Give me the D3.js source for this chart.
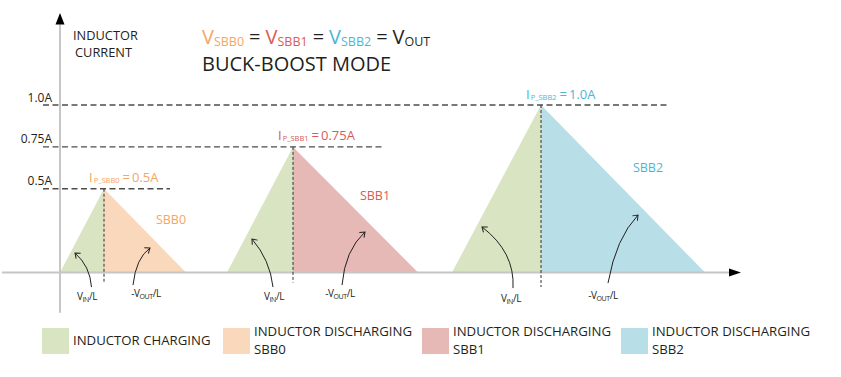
<!DOCTYPE html>
<html>
<head>
<meta charset="utf-8">
<script src="https://cdn.jsdelivr.net/npm/d3@7"></script>
<style>
body { margin: 0; background: #fff; }
svg { display: block; font-family: "Open Sans", sans-serif; }
</style>
</head>
<body>
<svg width="841" height="377"></svg>
<script>
// switching pulses, time in arbitrary units, current in amps
var series = ["SBB0", "SBB1", "SBB2"];
var startT = [0, 16.7, 39.2];
var peakT = [4.4, 23.3, 48.1];
var endT = [12.6, 35.8, 64.5];
var peakI = [0.5, 0.75, 1.0];
var peakText = ["0.5A", "0.75A", "1.0A"];
var tickValues = [0.5, 0.75, 1.0];
var tickLabels = ["0.5A", "0.75A", "1.0A"];
var levelEndT = [11, 32.5, 60.8];
var dropEndI = [-0.065, -0.06, -0.087];

// series name labels [t, I]
var nameAt = [[11.1, 0.29], [31.5, 0.433], [58.8, 0.6]];

// slope annotations: curved arrows [tail, ctrl, head] and their text
var chargeArrows = [
    [[3.15, -0.087], [3.0, 0.039], [1.5, 0.116]],
    [[21.3, -0.087], [21.0, 0.075], [19.2, 0.2]],
    [[45.3, -0.093], [45.5, 0.122], [42.2, 0.272]]
];
var dischargeArrows = [
    [[7.3, -0.075], [7.6, 0.087], [9.0, 0.146]],
    [[28.2, -0.075], [28.5, 0.134], [30.5, 0.242]],
    [[54.8, -0.063], [55.6, 0.206], [57.8, 0.343]]
];
var chargeTextAt = [[2.7, -0.164], [21.4, -0.164], [45.1, -0.176]];
var dischargeTextAt = [[8.6, -0.146], [28.0, -0.146], [54.3, -0.158]];

var legendLabels = [["INDUCTOR CHARGING"], ["INDUCTOR DISCHARGING", "SBB0"],
    ["INDUCTOR DISCHARGING", "SBB1"], ["INDUCTOR DISCHARGING", "SBB2"]];

var loadVis = function() {

    var svg = d3.select("svg");

    var x = d3.scaleLinear().domain([0, 68]).range([60, 740]);
    var y = d3.scaleLinear().domain([0, 1]).range([272.5, 105]);

    var fill = d3.scaleOrdinal()
        .domain(["CHG"].concat(series))
        .range(["#d9e4c3", "#fad8bb", "#e6b8b6", "#b8dee8"]);
    var ink = d3.scaleOrdinal()
        .domain(series)
        .range(["#f6a564", "#d75b56", "#4db6d4"]);

    var dark = "#231f20";

    var defs = svg.append("defs");
    defs.append("marker")
        .attr("id", "tip")
        .attr("viewBox", "-6 -5 8 10")
        .attr("markerWidth", 8).attr("markerHeight", 10)
        .attr("markerUnits", "userSpaceOnUse")
        .attr("orient", "auto")
        .append("path")
            .attr("d", "M-4.5,-3.5L0,0L-4.5,3.5")
            .style("fill", "none")
            .style("stroke", dark)
            .style("stroke-width", 1);

    var idx = d3.range(series.length);

    // triangles
    var tri = svg.append("g").attr("class", "pulses");
    tri.selectAll("path.chg")
        .data(idx).enter()
        .append("path")
            .attr("class", "chg")
            .attr("d", function(i) {
                return "M" + x(startT[i]) + "," + y(0) + "L" + x(peakT[i]) + "," + y(peakI[i]) +
                    "L" + x(peakT[i]) + "," + y(0) + "Z";
            })
            .attr("fill", fill("CHG"));
    tri.selectAll("path.dis")
        .data(idx).enter()
        .append("path")
            .attr("class", "dis")
            .attr("d", function(i) {
                return "M" + x(peakT[i]) + "," + y(0) + "L" + x(peakT[i]) + "," + y(peakI[i]) +
                    "L" + x(endT[i]) + "," + y(0) + "Z";
            })
            .attr("fill", function(i) { return fill(series[i]); });

    // level lines
    svg.append("g").selectAll("line")
        .data(idx).enter()
        .append("line")
            .attr("x1", x(-1.7))
            .attr("x2", function(i) { return x(levelEndT[i]); })
            .attr("y1", function(i) { return y(tickValues[i]); })
            .attr("y2", function(i) { return y(tickValues[i]); })
            .style("stroke", "#4d4d4d")
            .style("stroke-width", 1.3)
            .style("stroke-dasharray", "6,3.5");

    svg.append("g").selectAll("text")
        .data(idx).enter()
        .append("text")
            .attr("x", x(-0.8))
            .attr("y", function(i) { return y(tickValues[i]) - 3.5; })
            .attr("text-anchor", "end")
            .style("font-size", "12px")
            .style("fill", dark)
            .text(function(i) { return tickLabels[i]; });

    // axes
    svg.append("line")
        .attr("x1", x(0)).attr("x2", x(0))
        .attr("y1", y(-0.24)).attr("y2", y(1.48))
        .style("stroke", "#c6c6c6").style("stroke-width", 2);
    svg.append("line")
        .attr("x1", x(-5.8)).attr("x2", x(67))
        .attr("y1", y(0)).attr("y2", y(0))
        .style("stroke", "#c6c6c6").style("stroke-width", 2);
    svg.append("path")
        .attr("d", "M" + x(0) + "," + y(1.55) + "L" + (x(0) + 4.5) + "," + y(1.48) + "L" + (x(0) - 4.5) + "," + y(1.48) + "Z")
        .attr("fill", "#000");
    svg.append("path")
        .attr("d", "M" + x(68.1) + "," + y(0) + "L" + x(66.9) + "," + (y(0) - 4) + "L" + x(66.9) + "," + (y(0) + 4) + "Z")
        .attr("fill", "#000");

    // peak drop lines
    svg.append("g").selectAll("line")
        .data(idx).enter()
        .append("line")
            .attr("x1", function(i) { return x(peakT[i]); })
            .attr("x2", function(i) { return x(peakT[i]); })
            .attr("y1", function(i) { return y(peakI[i]); })
            .attr("y2", function(i) { return y(dropEndI[i]); })
            .style("stroke", "#333")
            .style("stroke-width", 1)
            .style("stroke-dasharray", "3,2");

    // peak labels
    var pk = svg.append("g").selectAll("text")
        .data(idx).enter()
        .append("text")
            .attr("x", function(i) { return x(peakT[i]) - 15; })
            .attr("y", function(i) { return y(peakI[i]) - 6.5; })
            .style("font-size", "13px")
            .style("fill", function(i) { return ink(series[i]); });
    pk.append("tspan").text("I");
    pk.append("tspan").attr("dy", 1).attr("dx", 1).style("font-size", "7.5px")
        .text(function(i) { return "P_" + series[i]; });
    pk.append("tspan").attr("dy", -1).attr("dx", 3).text("=");
    pk.append("tspan").attr("dx", 2).text(function(i) { return peakText[i]; });

    // series names
    svg.append("g").selectAll("text")
        .data(idx).enter()
        .append("text")
            .attr("x", function(i) { return x(nameAt[i][0]); })
            .attr("y", function(i) { return y(nameAt[i][1]); })
            .attr("text-anchor", "middle")
            .style("font-size", "12.5px")
            .style("fill", function(i) { return ink(series[i]); })
            .text(function(i) { return series[i]; });

    // slope arrows
    var curve = function(p) {
        return "M" + x(p[0][0]) + "," + y(p[0][1]) + "Q" + x(p[1][0]) + "," + y(p[1][1]) +
            " " + x(p[2][0]) + "," + y(p[2][1]);
    };
    svg.append("g").selectAll("path")
        .data(chargeArrows.concat(dischargeArrows)).enter()
        .append("path")
            .attr("d", curve)
            .attr("marker-end", "url(#tip)")
            .style("fill", "none")
            .style("stroke", dark)
            .style("stroke-width", 1);

    var vin = svg.append("g").selectAll("text")
        .data(chargeTextAt).enter()
        .append("text")
            .attr("x", function(d) { return x(d[0]); })
            .attr("y", function(d) { return y(d[1]); })
            .attr("text-anchor", "middle")
            .style("font-size", "10px")
            .style("letter-spacing", "-0.4px")
            .style("fill", dark);
    vin.append("tspan").text("V");
    vin.append("tspan").attr("dy", 2).style("font-size", "7px").text("IN");
    vin.append("tspan").attr("dy", -2).text("/L");

    var vout = svg.append("g").selectAll("text")
        .data(dischargeTextAt).enter()
        .append("text")
            .attr("x", function(d) { return x(d[0]); })
            .attr("y", function(d) { return y(d[1]); })
            .attr("text-anchor", "middle")
            .style("font-size", "10px")
            .style("letter-spacing", "-0.4px")
            .style("fill", dark);
    vout.append("tspan").text("-V");
    vout.append("tspan").attr("dy", 2).style("font-size", "7px").text("OUT");
    vout.append("tspan").attr("dy", -2).text("/L");

    // y axis title
    svg.append("text")
        .attr("x", 73).attr("y", 40)
        .style("font-size", "12.8px").style("fill", dark)
        .selectAll("tspan")
        .data(["INDUCTOR", "CURRENT"]).enter()
        .append("tspan")
            .attr("x", function(d, i) { return 73 + 2 * i; })
            .attr("dy", function(d, i) { return i ? 16.5 : 0; })
            .text(function(d) { return d; });

    // title
    var title = svg.append("text")
        .attr("x", 202).attr("y", 44)
        .style("font-size", "20px")
        .style("fill", dark);
    var parts = [["V", "SBB0", ink("SBB0")], ["V", "SBB1", ink("SBB1")],
        ["V", "SBB2", ink("SBB2")], ["V", "OUT", dark]];
    parts.forEach(function(p, i) {
        title.append("tspan").attr("dx", i ? 5 : 0).style("fill", p[2]).text(p[0]);
        title.append("tspan").attr("dy", 1.5).style("font-size", "12.5px").style("fill", p[2]).text(p[1]);
        if (i < parts.length - 1) {
            title.append("tspan").attr("dy", -1.5).attr("dx", 5).style("fill", dark).text("=");
        }
    });
    svg.append("text")
        .attr("x", 202).attr("y", 71)
        .style("font-size", "20px")
        .style("fill", dark)
        .text("BUCK-BOOST MODE");

    // legend
    var legX = [42, 223, 422, 621];
    var legKeys = ["CHG"].concat(series);
    var leg = svg.append("g").selectAll("g")
        .data(legendLabels).enter()
        .append("g")
            .attr("transform", function(d, i) { return "translate(" + legX[i] + ",328)"; });
    leg.append("rect")
        .attr("width", 27).attr("height", 26)
        .attr("fill", function(d, i) { return fill(legKeys[i]); });
    leg.append("text")
        .attr("y", function(d) { return d.length > 1 ? 8 : 17; })
        .style("font-size", "13.2px")
        .style("fill", dark)
        .selectAll("tspan")
        .data(function(d) { return d; }).enter()
        .append("tspan")
            .attr("x", 31)
            .attr("dy", function(d, i) { return i ? 18 : 0; })
            .text(function(d) { return d; });
};

document.addEventListener('DOMContentLoaded', loadVis, false);
</script>
</body>
</html>
